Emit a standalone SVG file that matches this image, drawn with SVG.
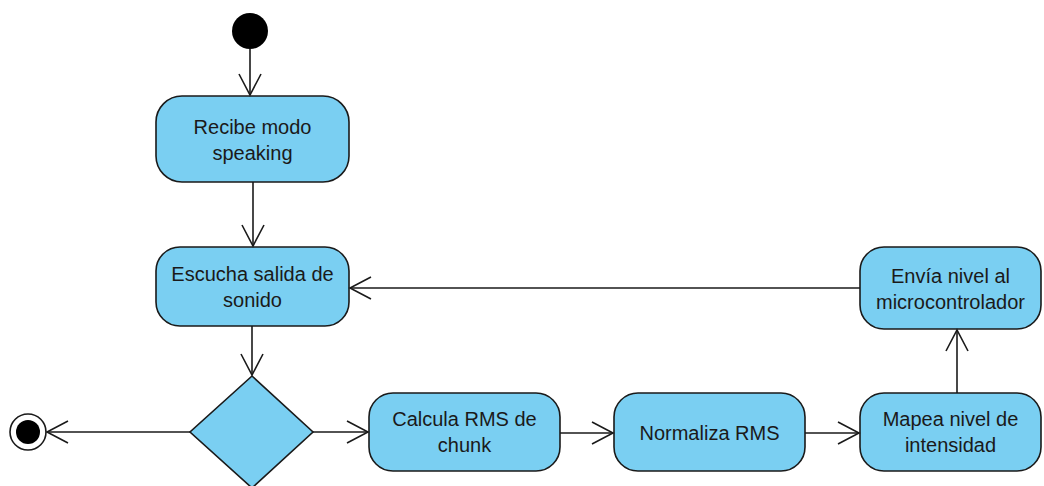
<svg xmlns="http://www.w3.org/2000/svg" width="1044" height="486" viewBox="0 0 1044 486">
  <defs>
    <style>
      .act { fill: #7acff2; stroke: #1a1a1a; stroke-width: 1.6; }
      .lbl { font-family: "Liberation Sans", Arial, sans-serif; font-size: 20px; fill: #1a1a1a; text-anchor: middle; }
      .edge { fill: none; stroke: #1a1a1a; stroke-width: 1.6; }
    </style>
    <marker id="open" viewBox="0 0 24 24" refX="22" refY="12" markerWidth="24" markerHeight="24" markerUnits="userSpaceOnUse" orient="auto">
      <path d="M1,1 L22,12 L1,23" fill="none" stroke="#1a1a1a" stroke-width="1.6"/>
    </marker>
  </defs>
  <rect width="1044" height="486" fill="#ffffff"/>

  <g id="start">
    <circle cx="250" cy="31" r="18" fill="#000000"/>
  </g>

  <g id="recibe">
    <rect class="act" x="156" y="96" width="193" height="86" rx="26"/>
    <text class="lbl" x="252.5" y="134">Recibe modo</text>
    <text class="lbl" x="252.5" y="160">speaking</text>
  </g>

  <g id="escucha">
    <rect class="act" x="156" y="247" width="193" height="79" rx="24"/>
    <text class="lbl" x="252.5" y="281">Escucha salida de</text>
    <text class="lbl" x="252.5" y="307">sonido</text>
  </g>

  <g id="decision">
    <polygon class="act" points="252,376 313,432 252,488 190,432"/>
  </g>

  <g id="end">
    <circle cx="28" cy="432" r="18" fill="#ffffff" stroke="#1a1a1a" stroke-width="1.6"/>
    <circle cx="28" cy="432" r="12" fill="#000000"/>
  </g>

  <g id="calcula">
    <rect class="act" x="369" y="393" width="191" height="78" rx="24"/>
    <text class="lbl" x="464.5" y="426">Calcula RMS de</text>
    <text class="lbl" x="464.5" y="452">chunk</text>
  </g>

  <g id="normaliza">
    <rect class="act" x="614" y="393" width="191" height="78" rx="24"/>
    <text class="lbl" x="709.5" y="440">Normaliza RMS</text>
  </g>

  <g id="mapea">
    <rect class="act" x="860" y="393" width="181" height="78" rx="24"/>
    <text class="lbl" x="950.5" y="426">Mapea nivel de</text>
    <text class="lbl" x="950.5" y="452">intensidad</text>
  </g>

  <g id="envia">
    <rect class="act" x="860" y="247" width="181" height="82" rx="24"/>
    <text class="lbl" x="950.5" y="283">Envía nivel al</text>
    <text class="lbl" x="950.5" y="309">microcontrolador</text>
  </g>

  <g id="connectors">
    <line class="edge" x1="250" y1="49" x2="250" y2="95" marker-end="url(#open)"/>
    <line class="edge" x1="253" y1="182" x2="253" y2="246" marker-end="url(#open)"/>
    <line class="edge" x1="252" y1="326" x2="252" y2="375" marker-end="url(#open)"/>
    <line class="edge" x1="190" y1="432" x2="47" y2="432" marker-end="url(#open)"/>
    <line class="edge" x1="313" y1="432" x2="368" y2="432" marker-end="url(#open)"/>
    <line class="edge" x1="560" y1="433" x2="613" y2="433" marker-end="url(#open)"/>
    <line class="edge" x1="805" y1="433" x2="859" y2="433" marker-end="url(#open)"/>
    <line class="edge" x1="957" y1="393" x2="957" y2="330" marker-end="url(#open)"/>
    <line class="edge" x1="860" y1="288" x2="350" y2="288" marker-end="url(#open)"/>
  </g>
</svg>
